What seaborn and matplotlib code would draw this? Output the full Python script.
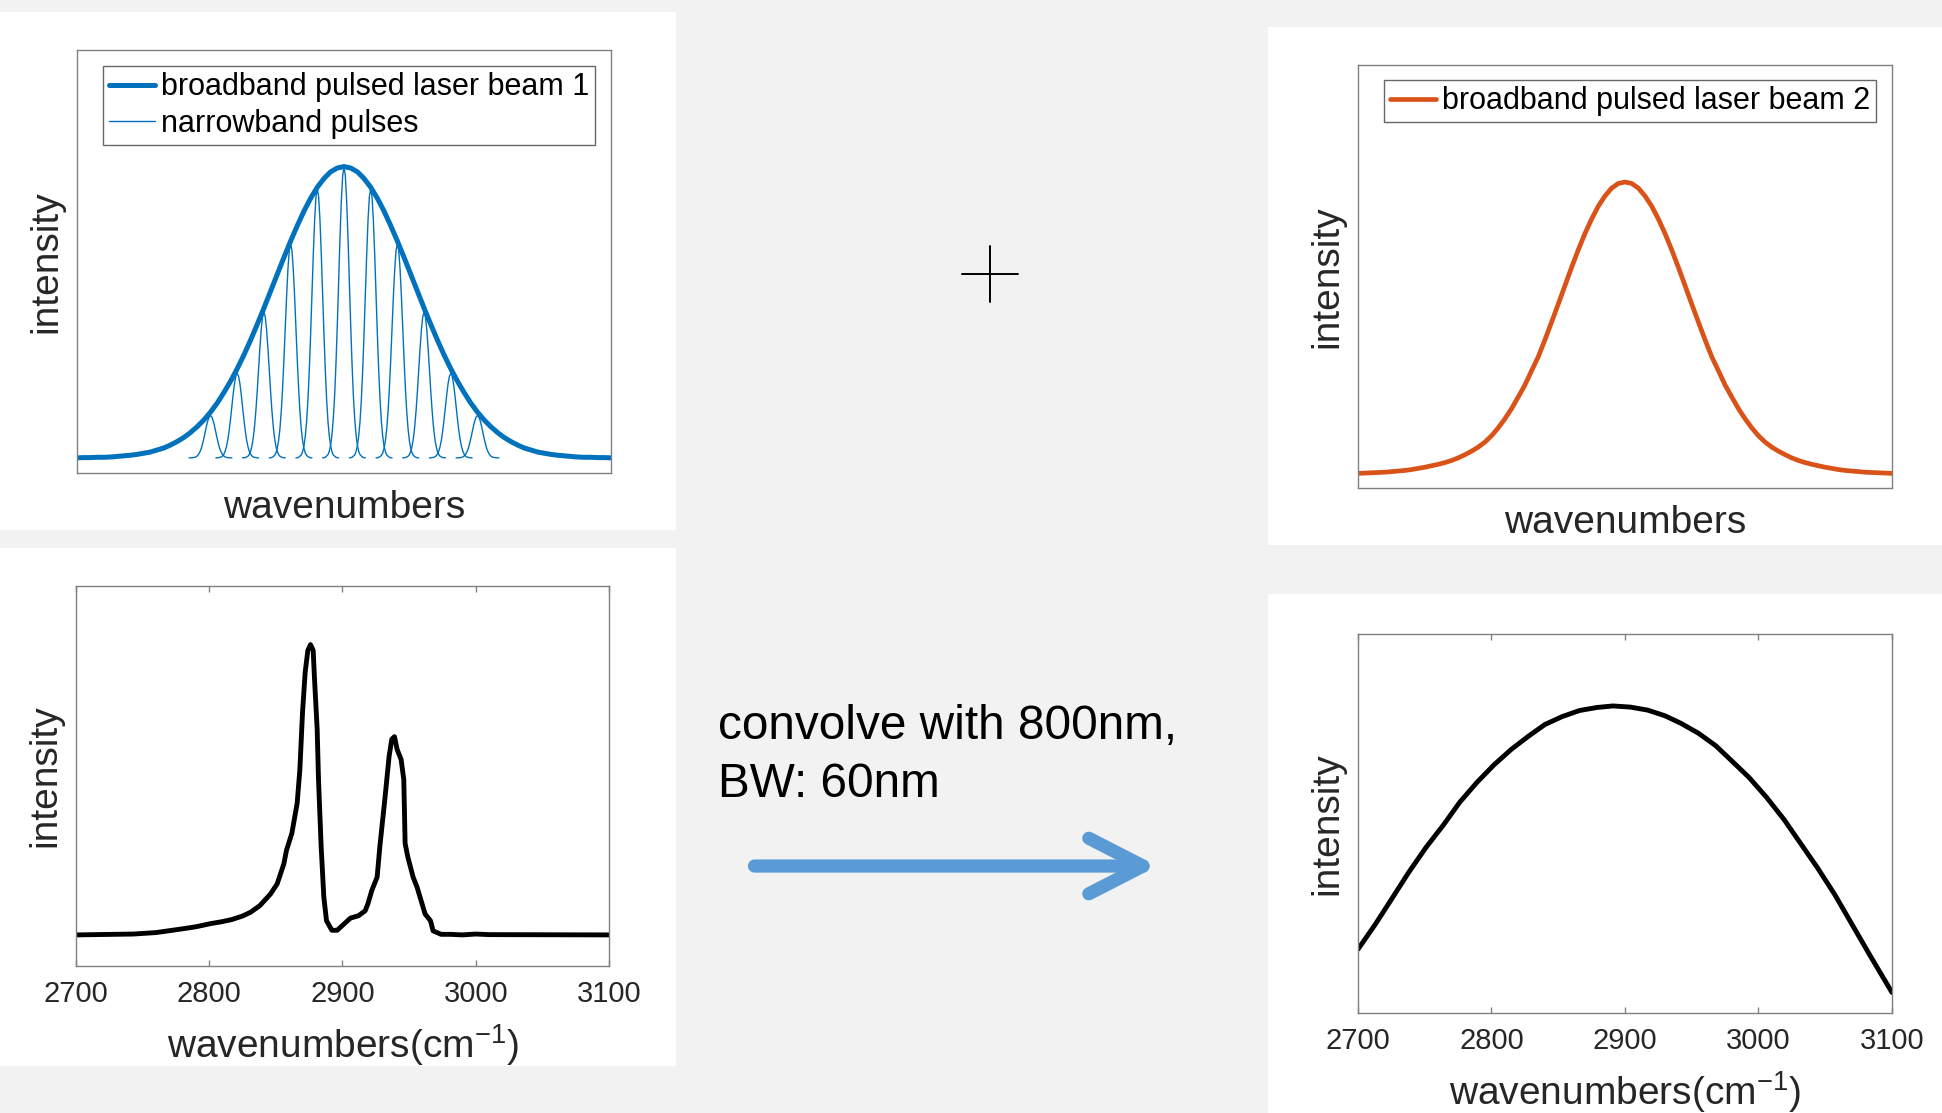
import numpy as np
import pandas as pd
import matplotlib
matplotlib.use("Agg")
import matplotlib.pyplot as plt
from matplotlib.lines import Line2D
from matplotlib.patches import Rectangle, FancyArrowPatch
import seaborn as sns

# ---- data ----
wn_ticks = [2700, 2800, 2900, 3000, 3100]

# broadband beam 1 (blue), sampled every 5 cm-1 from 2700 to 3100
beam_x = np.arange(2700, 3101, 5)
beam1_y = [0.000, 0.001, 0.001, 0.002, 0.002, 0.003, 0.005, 0.007, 0.009, 0.012,
           0.016, 0.020, 0.027, 0.034, 0.044, 0.056, 0.070, 0.087, 0.107, 0.130,
           0.157, 0.188, 0.224, 0.263, 0.306, 0.353, 0.404, 0.458, 0.514, 0.572,
           0.630, 0.688, 0.744, 0.797, 0.847, 0.891, 0.929, 0.959, 0.982, 0.995,
           1.000,
           0.995, 0.982, 0.959, 0.929, 0.891, 0.847, 0.797, 0.744, 0.688, 0.630,
           0.572, 0.514, 0.458, 0.404, 0.353, 0.306, 0.263, 0.224, 0.188, 0.157,
           0.130, 0.107, 0.087, 0.070, 0.056, 0.044, 0.034, 0.027, 0.020, 0.016,
           0.012, 0.009, 0.007, 0.005, 0.003, 0.002, 0.002, 0.001, 0.001, 0.000]

# broadband beam 2 (orange)
beam2_y = [0.000, 0.001, 0.002, 0.003, 0.004, 0.006, 0.008, 0.010, 0.013, 0.017,
           0.021, 0.026, 0.031, 0.037, 0.044, 0.053, 0.064, 0.076, 0.090, 0.107,
           0.129, 0.156, 0.187, 0.222, 0.262, 0.303, 0.352, 0.400, 0.458, 0.519,
           0.581, 0.644, 0.707, 0.767, 0.823, 0.873, 0.917, 0.952, 0.979, 0.995,
           1.000,
           0.995, 0.979, 0.952, 0.917, 0.873, 0.823, 0.767, 0.707, 0.644, 0.581,
           0.519, 0.458, 0.400, 0.352, 0.303, 0.262, 0.222, 0.187, 0.156, 0.129,
           0.107, 0.090, 0.076, 0.064, 0.053, 0.044, 0.037, 0.031, 0.026, 0.021,
           0.017, 0.013, 0.010, 0.008, 0.006, 0.004, 0.003, 0.002, 0.001, 0.000]

# narrowband pulses: centres, peak heights and the shape of one pulse
pulse_centers = [2800, 2820, 2840, 2860, 2880, 2900, 2920, 2940, 2960, 2980, 3000]
pulse_heights = [0.145, 0.290, 0.500, 0.735, 0.925, 1.000, 0.925, 0.735, 0.500, 0.290, 0.145]
pulse_offsets = [-16, -14, -12, -11, -10, -9, -8, -7, -6, -5, -4, -3, -2, -1, 0,
                 1, 2, 3, 4, 5, 6, 7, 8, 9, 10, 11, 12, 14, 16]
pulse_shape = [0.000, 0.002, 0.011, 0.023, 0.044, 0.080, 0.135, 0.216, 0.325, 0.458,
               0.607, 0.755, 0.882, 0.969, 1.000, 0.969, 0.882, 0.755, 0.607, 0.458,
               0.325, 0.216, 0.135, 0.080, 0.044, 0.023, 0.011, 0.002, 0.000]

# measured spectrum (bottom left)
spec_x = [2700, 2743, 2760, 2777, 2790, 2800, 2810, 2817, 2825, 2831,
          2838, 2846, 2851, 2856, 2858, 2862, 2866, 2868, 2870, 2872,
          2874, 2876, 2878, 2879, 2881, 2882, 2884, 2886, 2888, 2892,
          2896, 2901, 2906, 2912, 2917, 2919, 2922, 2926, 2928, 2932,
          2935, 2937, 2939, 2941, 2944, 2946, 2947, 2949, 2953, 2956,
          2959, 2962, 2966, 2968, 2974, 2981, 2990, 3000, 3010, 3100]
spec_y = [0.000, 0.003, 0.008, 0.019, 0.028, 0.038, 0.046, 0.053, 0.065, 0.078,
          0.101, 0.141, 0.176, 0.245, 0.292, 0.350, 0.454, 0.569, 0.766, 0.905,
          0.980, 1.000, 0.980, 0.882, 0.708, 0.535, 0.303, 0.130, 0.049, 0.016,
          0.016, 0.037, 0.058, 0.066, 0.083, 0.106, 0.153, 0.199, 0.303, 0.477,
          0.616, 0.674, 0.683, 0.639, 0.604, 0.535, 0.315, 0.269, 0.199, 0.164,
          0.118, 0.072, 0.049, 0.014, 0.002, 0.002, 0.000, 0.003, 0.001, 0.000]

# convolved result (bottom right)
conv_x = [2700, 2713, 2726, 2738, 2751, 2764, 2776, 2789, 2802, 2815, 2828,
          2840, 2853, 2866, 2879, 2891, 2904, 2917, 2930, 2942, 2955, 2968,
          2980, 2993, 3006, 3019, 3031, 3044, 3057, 3070, 3083, 3100]
conv_y = [0.168, 0.234, 0.305, 0.371, 0.437, 0.496, 0.555, 0.608, 0.655, 0.696, 0.731,
          0.761, 0.782, 0.798, 0.806, 0.810, 0.807, 0.799, 0.784, 0.764, 0.738, 0.705,
          0.665, 0.621, 0.569, 0.511, 0.450, 0.384, 0.313, 0.234, 0.155, 0.054]

pulse_df = pd.DataFrame(
    [(i, c + o, h * s)
     for i, (c, h) in enumerate(zip(pulse_centers, pulse_heights))
     for o, s in zip(pulse_offsets, pulse_shape)],
    columns=["pulse", "x", "y"])

# ---- style ----
sns.set_theme(style="white")
plt.rcParams["font.family"] = ["Liberation Sans", "DejaVu Sans"]
plt.rcParams["mathtext.fontset"] = "custom"
plt.rcParams["mathtext.rm"] = "Liberation Sans"
plt.rcParams["mathtext.it"] = "Liberation Sans:italic"
plt.rcParams["mathtext.default"] = "regular"

BLUE = "#0072BD"
ORANGE = "#D95319"
TXT = "#262626"
BOX = "#808080"

fig = plt.figure(figsize=(19.42, 11.13), dpi=100, facecolor="#F2F2F2")

# white backgrounds of the four pasted figures (drawn below the axes)
for (x0, y0, w, h) in [(0.0, 0.5238, 0.3481, 0.4654), (0.0, 0.0422, 0.3481, 0.4654),
                       (0.6529, 0.5103, 0.3471, 0.4654), (0.6529, 0.0, 0.3471, 0.4663)]:
    fig.patches.append(Rectangle((x0, y0), w, h, transform=fig.transFigure,
                                 facecolor="white", edgecolor="none", zorder=-5))

ax1 = fig.add_axes([0.03965, 0.5750, 0.27497, 0.38005])
ax2 = fig.add_axes([0.03913, 0.1321, 0.27446, 0.34142])
ax3 = fig.add_axes([0.69928, 0.5616, 0.27497, 0.37960])
ax4 = fig.add_axes([0.69928, 0.0899, 0.27497, 0.34052])
for ax in (ax1, ax2, ax3, ax4):
    ax.set_zorder(2)


def style_axes(ax, with_ticks, xlabel):
    ax.set_facecolor("white")
    for s in ax.spines.values():
        s.set_visible(True)
        s.set_color(BOX)
        s.set_linewidth(1.0)
    ax.set_xlim(2700, 3100)
    ax.set_yticks([])
    if with_ticks:
        ax.set_xticks(wn_ticks)
        ax.tick_params(axis="x", direction="in", top=True, bottom=True, length=4.5,
                       width=1.0, color=BOX, labelsize=21, labelcolor=TXT, pad=10)
        lp = 10.5
    else:
        ax.set_xticks([])
        lp = 12
    ax.set_xlabel(xlabel, fontsize=28, color=TXT, labelpad=lp)
    ax.set_ylabel("intensity", fontsize=28, color=TXT, labelpad=9)


LEG = dict(loc="upper left", borderaxespad=0, fontsize=22, frameon=True,
           fancybox=False, edgecolor="#666666", framealpha=1, borderpad=0.2,
           labelspacing=0.22, handlelength=1.5, handletextpad=0.2,
           labelcolor="black")

# top left: beam 1 with narrowband pulses
sns.lineplot(x=beam_x, y=beam1_y, ax=ax1, color=BLUE, linewidth=3.6, legend=False)
sns.lineplot(data=pulse_df, x="x", y="y", units="pulse", estimator=None, sort=False,
             ax=ax1, color=BLUE, linewidth=1.0, legend=False)
ax1.set_ylim(-0.052, 1.40)
style_axes(ax1, False, "wavenumbers")
leg = ax1.legend(handles=[ax1.lines[0], ax1.lines[1]],
                 labels=["broadband pulsed laser beam 1", "narrowband pulses"],
                 bbox_to_anchor=(0.048, 0.962), **LEG)
leg.get_frame().set_linewidth(1.0)

# bottom left: measured spectrum
sns.lineplot(x=spec_x, y=spec_y, ax=ax2, color="black", linewidth=3.5, sort=False,
             legend=False)
ax2.set_ylim(-0.107, 1.202)
style_axes(ax2, True, "wavenumbers(cm$^{-1}$)")

# top right: beam 2
sns.lineplot(x=beam_x, y=beam2_y, ax=ax3, color=ORANGE, linewidth=3.4, legend=False)
ax3.set_ylim(-0.05, 1.40)
style_axes(ax3, False, "wavenumbers")
leg3 = ax3.legend(handles=[ax3.lines[0]], labels=["broadband pulsed laser beam 2"],
                  bbox_to_anchor=(0.048, 0.965), **LEG)
leg3.get_frame().set_linewidth(1.0)

# bottom right: convolved result
sns.lineplot(x=conv_x, y=conv_y, ax=ax4, color="black", linewidth=3.5, legend=False)
ax4.set_ylim(0, 1)
style_axes(ax4, True, "wavenumbers(cm$^{-1}$)")

# plus sign between the two beams
fig.add_artist(Line2D([0.4954, 0.5242], [0.7538, 0.7538], transform=fig.transFigure,
                      color="black", linewidth=1.4))
fig.add_artist(Line2D([0.5098, 0.5098], [0.7290, 0.7790], transform=fig.transFigure,
                      color="black", linewidth=1.4))

# annotation text and arrow
fig.text(0.3697, 0.3356, "convolve with 800nm,", fontsize=34.4, color="black",
         ha="left", va="baseline")
fig.text(0.3697, 0.2839, "BW: 60nm", fontsize=34.4, color="black",
         ha="left", va="baseline")
fig.add_artist(FancyArrowPatch((0.3885, 0.2219), (0.5960, 0.2219),
                               transform=fig.transFigure,
                               arrowstyle="->,head_length=3.9,head_width=2.0",
                               mutation_scale=10, color="#5B9BD5", linewidth=9.5,
                               shrinkA=0, shrinkB=0, capstyle="round",
                               joinstyle="round"))

fig.savefig("out.png", dpi=100, facecolor=fig.get_facecolor())
